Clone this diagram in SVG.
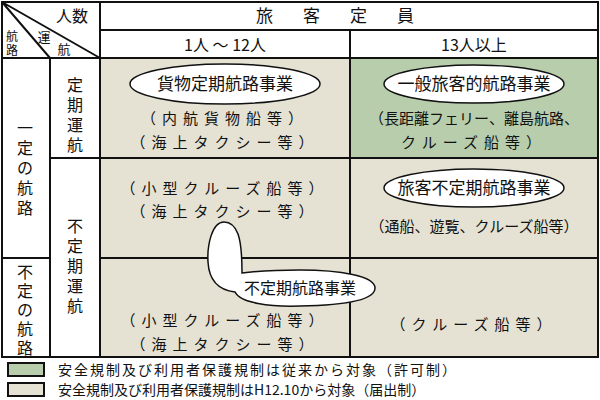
<svg xmlns="http://www.w3.org/2000/svg" width="600" height="400" viewBox="0 0 600 400">
<style>
text{font-family:"Noto Sans CJK JP","Liberation Sans",sans-serif;fill:#111;font-size:15px}
.c{text-anchor:middle}
.v{text-anchor:middle;font-size:16px}
.ln{stroke:#111;stroke-width:2;fill:none}
.bg{fill:#e5e2d3}
.gr{fill:#b7cdac}
.ov{fill:#fff;stroke:#111;stroke-width:1.5}
.sp{letter-spacing:6px}
</style>
<rect width="600" height="400" fill="#fff"/>
<g id="cells">
<rect class="bg" x="100" y="58" width="250" height="299"/>
<rect class="gr" x="350" y="58" width="248" height="100"/>
<rect class="bg" x="350" y="158" width="248" height="199"/>
</g>
<g id="grid">
<rect class="ln" x="2" y="2" width="596" height="355"/>
<path class="ln" d="M100 30H598M2 58H598M100 2V357M350 30V357M50 58V357M2 258H50M50 158H100M100 158H598M100 258H598M2 2L100 58M2 2L50 58"/>
</g>
<g id="header">
<text x="72" y="22" class="c" style="font-size:16px">人数</text>
<text x="44" y="42" class="c" style="font-size:13px">運</text>
<text x="64" y="54" class="c" style="font-size:13px">航</text>
<text x="12" y="41" class="c" style="font-size:12px">航</text>
<text x="12" y="55" class="c" style="font-size:12px">路</text>
<text x="350" y="22" class="c" style="font-size:17px;letter-spacing:30px">旅客定員</text>
<text x="225" y="51" class="c" style="font-size:16px">1人 ～ 12人</text>
<text x="474" y="51" class="c" style="font-size:16px">13人以上</text>
</g>
<g id="rowheads">
<text x="25" y="134" class="v">一</text><text x="25" y="154" class="v">定</text><text x="25" y="174" class="v">の</text><text x="25" y="194" class="v">航</text><text x="25" y="214" class="v">路</text>
<text x="75" y="91" class="v">定</text><text x="75" y="111" class="v">期</text><text x="75" y="131" class="v">運</text><text x="75" y="151" class="v">航</text>
<text x="75" y="232" class="v">不</text><text x="75" y="252" class="v">定</text><text x="75" y="272" class="v">期</text><text x="75" y="292" class="v">運</text><text x="75" y="312" class="v">航</text>
<text x="25" y="278" class="v">不</text><text x="25" y="297" class="v">定</text><text x="25" y="316" class="v">の</text><text x="25" y="335" class="v">航</text><text x="25" y="354" class="v">路</text>
</g>
<g id="n1">
<ellipse class="ov" cx="225" cy="84" rx="95" ry="20"/>
<text x="225" y="90" class="c" style="font-size:17px">貨物定期航路事業</text>
<text x="225" y="124" class="c sp">（内航貨物船等）</text>
<text x="225" y="148" class="c sp">（海上タクシー等）</text>
</g>
<g id="n2">
<ellipse class="ov" cx="474" cy="84" rx="90" ry="19"/>
<text x="474" y="90" class="c" style="font-size:17px">一般旅客的航路事業</text>
<text x="474" y="124" class="c">（長距離フェリー、離島航路、</text>
<text x="474" y="148" class="c sp">クルーズ船等）</text>
</g>
<g id="n3">
<text x="225" y="194" class="c sp">（小型クルーズ船等）</text>
<text x="225" y="217" class="c sp">（海上タクシー等）</text>
</g>
<g id="n4">
<ellipse class="ov" cx="474" cy="188" rx="90" ry="19"/>
<text x="474" y="194" class="c" style="font-size:17px">旅客不定期航路事業</text>
<text x="474" y="232" class="c">（通船、遊覧、クルーズ船等）</text>
</g>
<g id="n5">
<path class="ov" d="M224 222C212 222 207 245 208 262C209 280 218 290 235 292C240 303 270 307 300 306C355 305 375 298 375 288C375 276 340 270 300 270C275 270 258 271 242 273C242 260 242 245 238 234C235 226 230 222 224 222Z"/>
<text x="300" y="294" class="c" style="font-size:16px">不定期航路事業</text>
<text x="225" y="326" class="c sp">（小型クルーズ船等）</text>
<text x="225" y="350" class="c sp">（海上タクシー等）</text>
<text x="474" y="330" class="c sp">（クルーズ船等）</text>
</g>
<g id="legend">
<rect class="gr" x="8" y="363" width="36" height="13" stroke="#111" stroke-width="2"/>
<rect class="bg" x="8" y="383" width="36" height="13" stroke="#111" stroke-width="2"/>
<text x="58" y="375" style="font-size:14px;letter-spacing:2px">安全規制及び利用者保護規制は従来から対象（許可制）</text>
<text x="58" y="395" style="font-size:14px">安全規制及び利用者保護規制はH12.10から対象（届出制）</text>
</g>
</svg>
